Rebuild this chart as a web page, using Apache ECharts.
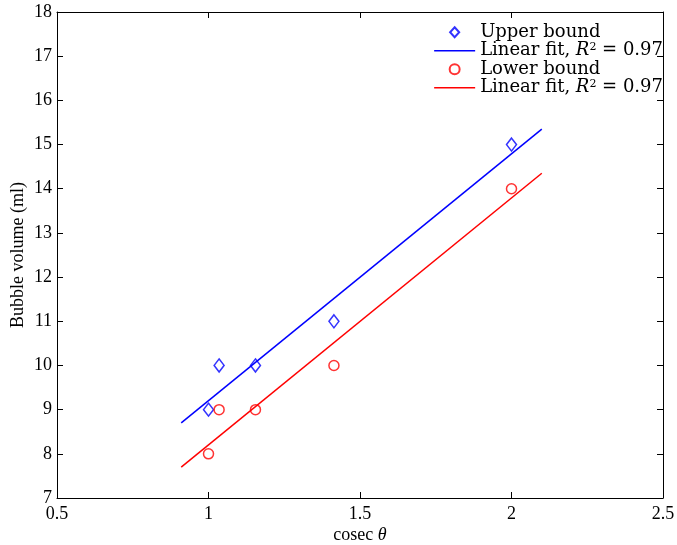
<!DOCTYPE html>
<html>
<head>
<meta charset="utf-8">
<script src="https://cdn.jsdelivr.net/npm/echarts@6/dist/echarts.min.js"></script>
<style>
  html, body { margin: 0; padding: 0; background: #fff; }
  #chart { width: 677px; height: 545px; }
</style>
</head>
<body>
<div id="chart"></div>
<script>
// cosec(theta) values of the measurements
const cosecValues = [1, 1.035, 1.155, 1.414, 2];
const upperBound = [9, 10, 10, 11, 15];
const lowerBound = [8, 9, 9, 10, 14];
const fitX = [0.91, 2.1];
const upperFit = [8.7, 15.35];
const lowerFit = [7.7, 14.35];

const FONT = '"Liberation Serif", "DejaVu Serif", serif';
const LFONT = '"DejaVu Serif", "Liberation Serif", serif';
const pairs = (xs, ys) => xs.map((x, i) => [x, ys[i]]);

const chart = echarts.init(document.getElementById('chart'), null, { renderer: 'canvas' });

const boxAxis = {
  axisLine: { show: true, onZero: false, lineStyle: { color: '#000', width: 1 } },
  axisTick: { show: true, inside: true, length: 6, lineStyle: { color: '#000' } },
  splitLine: { show: false },
};

const lineIcon = 'path://M0,0 L41,0 L41,1.5 L0,1.5 Z';
const diamondIcon = 'path://M5,0 L10,5.5 L5,11 L0,5.5 Z';

chart.setOption({
  animation: false,
  backgroundColor: '#fff',
  grid: { left: 57, right: 14, top: 12, bottom: 47, containLabel: false, outerBoundsMode: 'none' },
  xAxis: [
    Object.assign({
      type: 'value', min: 0.5, max: 2.5, interval: 0.5, position: 'bottom',
      name: 'cosec {i|θ}', nameLocation: 'middle', nameGap: 28, nameMoveOverlap: false,
      nameTextStyle: { fontFamily: FONT, fontSize: 18, color: '#000',
        rich: { i: { fontFamily: FONT, fontSize: 18, fontStyle: 'italic', color: '#000' } } },
      axisLabel: { fontFamily: FONT, fontSize: 18, color: '#000', margin: 7 },
    }, boxAxis),
    Object.assign({
      type: 'value', min: 0.5, max: 2.5, interval: 0.5, position: 'top',
      axisLabel: { show: false },
    }, boxAxis),
  ],
  yAxis: [
    Object.assign({
      type: 'value', min: 7, max: 18, interval: 1, position: 'left',
      name: 'Bubble volume (ml)', nameLocation: 'middle', nameGap: 30, nameRotate: 90,
      nameMoveOverlap: false,
      nameTextStyle: { fontFamily: FONT, fontSize: 18, color: '#000' },
      axisLabel: { fontFamily: FONT, fontSize: 18, color: '#000', margin: 5 },
    }, boxAxis),
    Object.assign({
      type: 'value', min: 7, max: 18, interval: 1, position: 'right',
      axisLabel: { show: false },
    }, boxAxis),
  ],
  legend: {
    orient: 'vertical', right: 14, top: 23, padding: 0,
    itemWidth: 41, itemHeight: 10, itemGap: 0,
    textStyle: { fontFamily: LFONT, fontSize: 18, color: '#000', lineHeight: 18.5,
      rich: {
        t: { fontFamily: LFONT, fontSize: 18, color: '#000' },
        i: { fontFamily: LFONT, fontSize: 18, fontStyle: 'italic', color: '#000' },
        s: { fontFamily: LFONT, fontSize: 11, color: '#000', verticalAlign: 'top', lineHeight: 11 },
      } },
    formatter: name => name.startsWith('Linear fit')
      ? '{t|Linear fit, }{i|R}{s|2}{t| = 0.97}' : name,
    data: [
      { name: 'Upper bound', icon: diamondIcon },
      { name: 'Linear fit, R² = 0.97 ', icon: lineIcon, itemStyle: { color: '#0000ff' } },
      { name: 'Lower bound', icon: 'circle' },
      { name: 'Linear fit, R² = 0.97', icon: lineIcon, itemStyle: { color: '#ff0000' } },
    ],
  },
  series: [
    {
      name: 'Upper bound', type: 'scatter', data: pairs(cosecValues, upperBound),
      symbol: 'diamond', symbolSize: [10, 13],
      itemStyle: { color: 'rgba(0,0,0,0)', borderColor: '#0000ff', borderWidth: 1.5 },
    },
    {
      name: 'Linear fit, R² = 0.97 ', type: 'line', data: pairs(fitX, upperFit),
      symbol: 'none', lineStyle: { color: '#0000ff', width: 1.5 }, itemStyle: { color: '#0000ff' },
    },
    {
      name: 'Lower bound', type: 'scatter', data: pairs(cosecValues, lowerBound),
      symbol: 'circle', symbolSize: 10,
      itemStyle: { color: 'rgba(0,0,0,0)', borderColor: '#ff0000', borderWidth: 1.5 },
    },
    {
      name: 'Linear fit, R² = 0.97', type: 'line', data: pairs(fitX, lowerFit),
      symbol: 'none', lineStyle: { color: '#ff0000', width: 1.5 }, itemStyle: { color: '#ff0000' },
    },
  ],
});
</script>
</body>
</html>
